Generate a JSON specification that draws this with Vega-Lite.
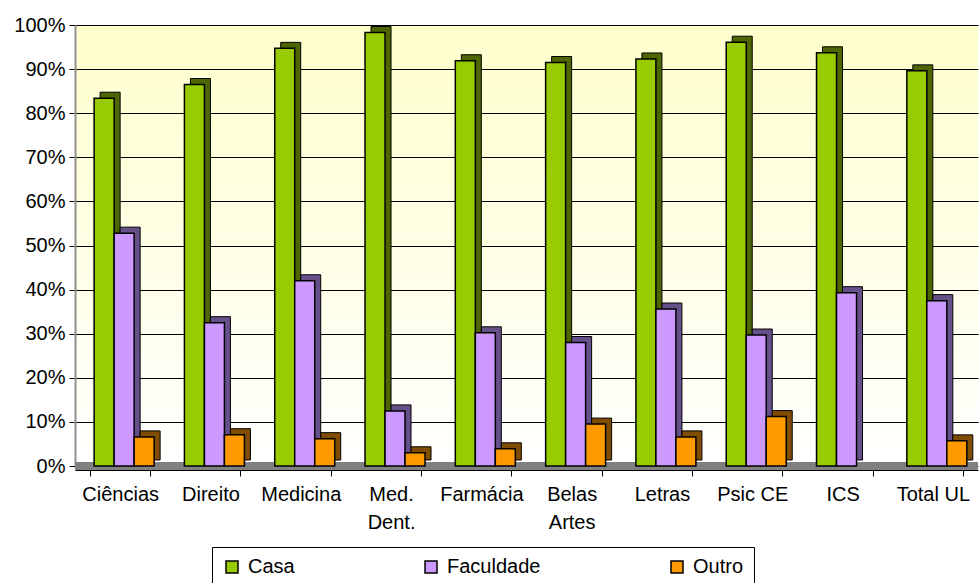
{
  "$schema": "https://vega.github.io/schema/vega-lite/v6.json",
  "width": 903,
  "height": 441,
  "autosize": {"type": "none"},
  "padding": {"left": 75, "top": 25, "right": 1, "bottom": 117},
  "background": "white",
  "config": {
    "font": "Liberation Sans",
    "view": {
      "stroke": null,
      "fill": {
        "gradient": "linear",
        "x1": 0, "y1": 0, "x2": 0, "y2": 1,
        "stops": [{"offset": 0, "color": "#ffffcc"}, {"offset": 1, "color": "#ffffff"}]
      }
    }
  },
  "data": {
    "values": [
      {"faculdade": "Ciências", "local": "Casa", "valor": 0.834},
      {"faculdade": "Ciências", "local": "Faculdade", "valor": 0.528},
      {"faculdade": "Ciências", "local": "Outro", "valor": 0.066},
      {"faculdade": "Direito", "local": "Casa", "valor": 0.865},
      {"faculdade": "Direito", "local": "Faculdade", "valor": 0.325},
      {"faculdade": "Direito", "local": "Outro", "valor": 0.071},
      {"faculdade": "Medicina", "local": "Casa", "valor": 0.947},
      {"faculdade": "Medicina", "local": "Faculdade", "valor": 0.420},
      {"faculdade": "Medicina", "local": "Outro", "valor": 0.062},
      {"faculdade": "Med. Dent.", "local": "Casa", "valor": 0.983},
      {"faculdade": "Med. Dent.", "local": "Faculdade", "valor": 0.125},
      {"faculdade": "Med. Dent.", "local": "Outro", "valor": 0.030},
      {"faculdade": "Farmácia", "local": "Casa", "valor": 0.919},
      {"faculdade": "Farmácia", "local": "Faculdade", "valor": 0.302},
      {"faculdade": "Farmácia", "local": "Outro", "valor": 0.039},
      {"faculdade": "Belas Artes", "local": "Casa", "valor": 0.915},
      {"faculdade": "Belas Artes", "local": "Faculdade", "valor": 0.280},
      {"faculdade": "Belas Artes", "local": "Outro", "valor": 0.095},
      {"faculdade": "Letras", "local": "Casa", "valor": 0.923},
      {"faculdade": "Letras", "local": "Faculdade", "valor": 0.356},
      {"faculdade": "Letras", "local": "Outro", "valor": 0.066},
      {"faculdade": "Psic CE", "local": "Casa", "valor": 0.961},
      {"faculdade": "Psic CE", "local": "Faculdade", "valor": 0.297},
      {"faculdade": "Psic CE", "local": "Outro", "valor": 0.112},
      {"faculdade": "ICS", "local": "Casa", "valor": 0.937},
      {"faculdade": "ICS", "local": "Faculdade", "valor": 0.393},
      {"faculdade": "Total UL", "local": "Casa", "valor": 0.896},
      {"faculdade": "Total UL", "local": "Faculdade", "valor": 0.375},
      {"faculdade": "Total UL", "local": "Outro", "valor": 0.057}
    ]
  },
  "encoding": {
    "x": {
      "field": "faculdade",
      "type": "nominal",
      "sort": null,
      "scale": {"paddingInner": 0.335, "paddingOuter": 0.1675},
      "axis": {
        "title": null,
        "labelAngle": 0,
        "labelFontSize": 20,
        "labelColor": "black",
        "labelPadding": 8,
        "labelLineHeight": 28,
        "labelExpr": "datum.label == 'Med. Dent.' ? ['Med.', 'Dent.'] : datum.label == 'Belas Artes' ? ['Belas', 'Artes'] : datum.label",
        "tickBand": "extent",
        "tickSize": 6,
        "tickColor": "black",
        "domainColor": "black",
        "offset": 4,
        "grid": false
      }
    },
    "y": {
      "field": "valor",
      "type": "quantitative",
      "scale": {"domain": [0, 1], "nice": false},
      "axis": {
        "title": null,
        "format": ".0%",
        "values": [0, 0.1, 0.2, 0.3, 0.4, 0.5, 0.6, 0.7, 0.8, 0.9, 1],
        "labelFontSize": 20,
        "labelColor": "black",
        "labelPadding": 4,
        "tickSize": 6,
        "tickColor": "black",
        "domainColor": "#909090",
        "domainWidth": 2,
        "grid": true,
        "gridColor": "black",
        "gridWidth": 1
      }
    }
  },
  "layer": [
    {
      "mark": {"type": "rule", "color": "#808080", "strokeWidth": 8},
      "encoding": {"y": {"datum": 0}, "x": null}
    },
    {
      "mark": {"type": "bar", "yOffset": -6, "stroke": "black", "strokeWidth": 1},
      "encoding": {
        "xOffset": {"field": "local", "type": "nominal", "sort": ["Casa", "Faculdade", "Outro"], "scale": {"range": [10, 70], "paddingInner": 0, "paddingOuter": 0}},
        "color": {
          "field": "local",
          "type": "nominal",
          "scale": {"domain": ["Casa", "Faculdade", "Outro"], "range": ["#4d6600", "#66508a", "#804d00"]},
          "legend": null
        }
      }
    },
    {
      "mark": {"type": "bar", "stroke": "black", "strokeWidth": 1.5},
      "encoding": {
        "xOffset": {"field": "local", "type": "nominal", "sort": ["Casa", "Faculdade", "Outro"], "scale": {"range": [4, 64], "paddingInner": 0, "paddingOuter": 0}},
        "color": {
          "field": "local",
          "type": "nominal",
          "scale": {"domain": ["Casa", "Faculdade", "Outro"], "range": ["#99cc00", "#cc99ff", "#ff9900"]},
          "legend": {
            "title": null,
            "orient": "none",
            "legendX": 137,
            "legendY": 522,
            "direction": "horizontal",
            "columns": 3,
            "columnPadding": 126,
            "padding": 10,
            "strokeColor": "black",
            "fillColor": "white",
            "symbolType": "square",
            "symbolSize": 144,
            "symbolStrokeColor": "black",
            "symbolStrokeWidth": 1.5,
            "labelFontSize": 20,
            "labelColor": "black",
            "labelOffset": 6
          }
        }
      }
    }
  ],
  "resolve": {"scale": {"color": "independent", "xOffset": "independent"}, "legend": {"color": "independent"}}
}
